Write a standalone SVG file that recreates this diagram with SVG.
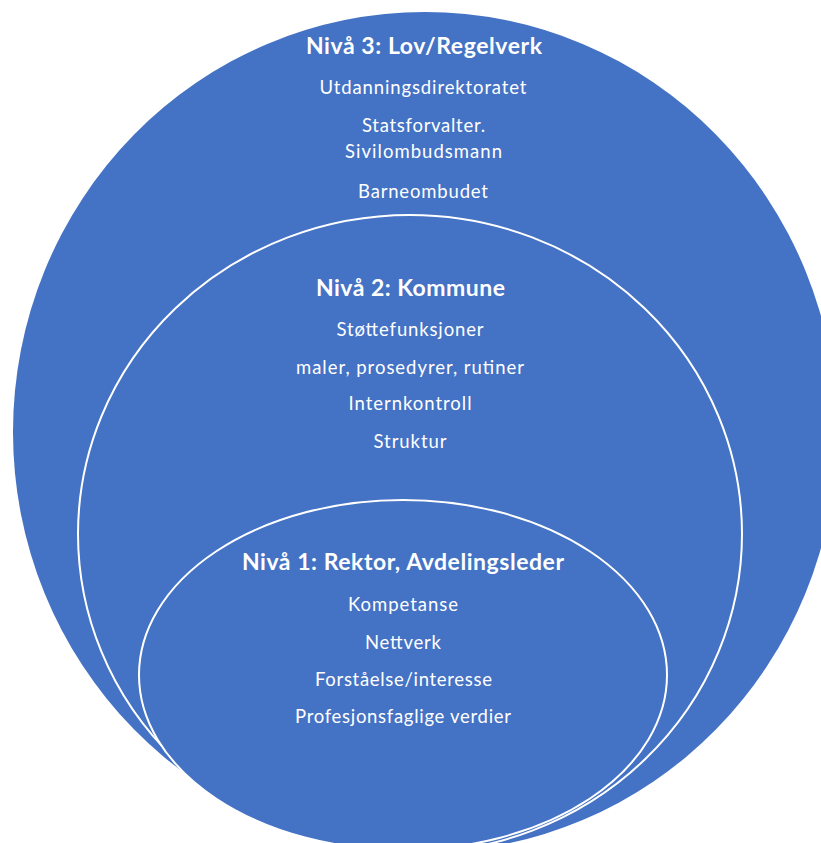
<svg xmlns="http://www.w3.org/2000/svg" width="821" height="843" viewBox="0 0 821 843">
<style>
  .shape { fill: #4472C4; }
  .ring { fill: #4472C4; stroke: #FFFFFF; stroke-width: 2; }
  .t { font-family: Lato, "Liberation Sans", sans-serif; fill: #FFFFFF; text-anchor: middle; font-size: 18.5px; }
  .h { font-family: Lato, "Liberation Sans", sans-serif; fill: #FFFFFF; text-anchor: middle; font-size: 23px; font-weight: bold; }
</style>
<rect width="821" height="843" fill="#FFFFFF"/>
<g id="niva3">
  <ellipse class="shape" cx="425" cy="432" rx="412" ry="420"/>
  <text class="h" x="424" y="54" textLength="236">Nivå 3: Lov/Regelverk</text>
  <text class="t" x="423" y="94" textLength="207">Utdanningsdirektoratet</text>
  <text class="t" x="423.5" y="132" textLength="123">Statsforvalter.</text>
  <text class="t" x="423.5" y="158" textLength="157">Sivilombudsmann</text>
  <text class="t" x="423" y="198" textLength="130">Barneombudet</text>
</g>
<g id="niva2">
  <ellipse class="ring" cx="410" cy="534" rx="332" ry="319"/>
  <text class="h" x="410.5" y="296" textLength="189">Nivå 2: Kommune</text>
  <text class="t" x="410" y="336" textLength="147">Støttefunksjoner</text>
  <text class="t" x="410" y="374" textLength="228">maler, prosedyrer, rutiner</text>
  <text class="t" x="410" y="410" textLength="123">Internkontroll</text>
  <text class="t" x="410" y="448" textLength="73">Struktur</text>
</g>
<g id="niva1">
  <ellipse class="ring" cx="403" cy="675" rx="264" ry="175"/>
  <text class="h" x="403" y="570" textLength="322">Nivå 1: Rektor, Avdelingsleder</text>
  <text class="t" x="403" y="611" textLength="110">Kompetanse</text>
  <text class="t" x="403" y="649" textLength="76">Nettverk</text>
  <text class="t" x="403.5" y="686" textLength="177">Forståelse/interesse</text>
  <text class="t" x="403" y="723" textLength="216">Profesjonsfaglige verdier</text>
</g>
</svg>
